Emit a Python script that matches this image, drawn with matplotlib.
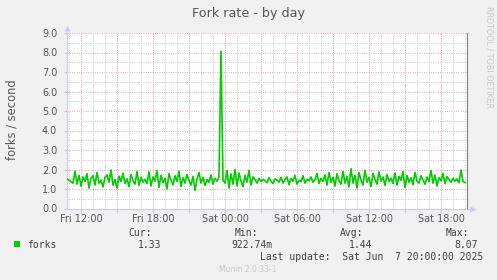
import numpy as np
import matplotlib
matplotlib.use("Agg")
import matplotlib.pyplot as plt

# forks per second, one sample every 10 minutes, Fri 10:50 -> Sat 20:00
forks = [
    1.52, 1.45, 1.38, 1.30, 1.92, 1.25, 1.70, 1.15, 1.62, 1.40, 1.78, 1.05, 1.55, 1.68, 1.20, 1.85, 1.30, 1.45, 1.10, 1.60,
    1.72, 1.35, 1.98, 1.20, 1.48, 1.05, 1.66, 1.38, 1.82, 1.28, 1.52, 1.12, 1.75, 1.42, 1.25, 1.90, 1.18, 1.60, 1.35, 1.50,
    1.28, 1.88, 1.15, 1.62, 1.40, 1.95, 1.08, 1.70, 1.32, 1.55, 1.00, 1.80, 1.45, 1.22, 1.68, 1.38, 1.92, 1.12, 1.58, 1.30,
    1.75, 1.42, 1.20, 1.65, 0.92, 1.50, 1.85, 1.30, 1.60, 1.18, 1.48, 1.35, 1.72, 1.25, 1.55, 1.40, 1.60, 8.07, 1.45, 1.30,
    1.95, 1.05, 1.78, 1.25, 2.00, 1.15, 1.82, 1.40, 1.12, 1.70, 1.35, 1.95, 1.20, 1.62, 1.48, 1.30, 1.55, 1.38, 1.50, 1.42,
    1.32, 1.58, 1.40, 1.28, 1.52, 1.45, 1.35, 1.60, 1.30, 1.48, 1.62, 1.22, 1.55, 1.40, 1.70, 1.25, 1.45, 1.38, 1.68, 1.30,
    1.50, 1.42, 1.62, 1.35, 1.48, 1.80, 1.28, 1.55, 1.40, 1.72, 1.20, 1.85, 1.35, 1.60, 1.15, 1.78, 1.42, 1.25, 1.90, 1.30,
    1.65, 1.10, 2.05, 1.30, 1.70, 1.05, 1.85, 1.45, 1.20, 1.95, 1.35, 1.60, 1.12, 1.80, 1.50, 1.25, 1.88, 1.40, 1.62, 1.18,
    1.75, 1.38, 1.55, 1.28, 1.82, 1.20, 1.65, 1.45, 1.90, 1.08, 1.70, 1.35, 1.58, 1.22, 1.85, 1.40, 1.30, 1.68, 1.45, 1.25,
    1.62, 1.38, 1.95, 1.30, 1.72, 1.15, 1.58, 1.42, 1.80, 1.28, 1.65, 1.48, 1.35, 1.55, 1.40, 1.52, 1.32, 1.98, 1.38, 1.33,
]
start_hour = 10 + 50 / 60  # hours since Fri 00:00
step_hour = 10 / 60

tick_hours = [12, 18, 24, 30, 36, 42]
tick_labels = ["Fri 12:00", "Fri 18:00", "Sat 00:00", "Sat 06:00", "Sat 12:00", "Sat 18:00"]
y_ticks = [0, 1, 2, 3, 4, 5, 6, 7, 8, 9]

legend_name = "forks"
stat_heads = ["Cur:", "Min:", "Avg:", "Max:"]
stat_values = ["1.33", "922.74m", "1.44", "8.07"]
last_update = "Last update:  Sat Jun  7 20:00:00 2025"

W, H = 497, 280
BG = "#f0f0f0"
TXT = "#555555"
AXC = "#c8c8f0"
MINOR = "#cccccc"
MAJOR = "#ecb0b0"

hours = start_hour + step_hour * np.arange(len(forks))

fig = plt.figure(figsize=(W / 100, H / 100), dpi=100, facecolor=BG)
ax = fig.add_axes([67 / W, 1 - 208.5 / H, 400 / W, 175.5 / H])
ax.set_facecolor("white")

ax.set_xlim(10 + 50 / 60, 10 + 50 / 60 + 400 / 12)
ax.set_ylim(0, 9)

# grid: minor gray (1h / 0.5), major red (3h / 1.0)
dots = (0, (1, 1.3))
for h in np.arange(11, 45, 1):
    ax.axvline(h, color=MINOR, lw=0.72, ls=dots, zorder=1)
for v in np.arange(0.5, 9, 1.0):
    ax.axhline(v, color=MINOR, lw=0.72, ls=dots, zorder=1)
for h in np.arange(12, 45, 3):
    ax.axvline(h, color=MAJOR, lw=0.72, ls=dots, zorder=2)
for v in y_ticks[1:]:
    ax.axhline(v, color=MAJOR, lw=0.72, ls=dots, zorder=2)

ax.plot(hours, forks, color="#00cc00", lw=1.2, zorder=3)

ax.spines["top"].set_visible(False)
ax.spines["left"].set_color(AXC)
ax.spines["bottom"].set_color(AXC)
ax.spines["right"].set_color("#808080")
for s in ax.spines.values():
    s.set_linewidth(0.8)

ax.set_xticks(tick_hours)
ax.set_xticklabels(tick_labels)
ax.set_xticks(np.arange(12, 45, 3), minor=True)
ax.set_yticks(y_ticks)
ax.set_yticklabels([f"{v:.1f}" for v in y_ticks])
ax.tick_params(axis="x", which="both", length=3, color=MAJOR, width=0.6,
               labelsize=7, labelcolor=TXT, pad=1)
ax.tick_params(axis="y", length=2, color=MAJOR, width=0.6,
               labelsize=7, labelcolor=TXT, pad=5)

# axis arrows
ax.plot([0, 0], [1.0, 1.03], color=AXC, lw=0.8, transform=ax.transAxes, clip_on=False)
ax.plot([0], [1.03], marker="^", ms=4.5, color=AXC, mec="none",
        transform=ax.transAxes, clip_on=False)
ax.plot([1.0, 1.012], [0, 0], color=AXC, lw=0.8, transform=ax.transAxes, clip_on=False)
ax.plot([1.014], [0], marker=">", ms=4.5, color=AXC, mec="none",
        transform=ax.transAxes, clip_on=False)

def px(x, y):
    return x / W, 1 - y / H

fig.text(*px(248, 13), "Fork rate - by day", ha="center", va="center",
         fontsize=9.2, color=TXT)
fig.text(*px(12, 120), "forks / second", ha="center", va="center",
         rotation=90, fontsize=8.3, color=TXT)
fig.text(*px(489, 57), "RRDTOOL / TOBI OETIKER", ha="center", va="center",
         rotation=270, fontsize=5.8, color="#c8c8c8")

mono = dict(family="DejaVu Sans Mono", fontsize=7.0, color="#404040")
fig.patches.append(plt.Rectangle(px(14, 247), 6 / W, 6 / H, transform=fig.transFigure,
                                 facecolor="#00cc00", edgecolor="none"))
fig.text(*px(27, 245), legend_name, ha="left", va="center", **mono)
head_right = [152, 258, 363, 469]
val_right = [161, 273, 372, 478]
for hd, vl, hx, vx in zip(stat_heads, stat_values, head_right, val_right):
    fig.text(*px(hx, 233), hd, ha="right", va="center", **mono)
    fig.text(*px(vx, 245), vl, ha="right", va="center", **mono)
fig.text(*px(483, 257), last_update, ha="right", va="center", **mono)
fig.text(*px(248, 270), "Munin 2.0.33-1", ha="center", va="center",
         fontsize=5.5, color="#c8c8c8")

fig.savefig("out.png", dpi=100, facecolor=BG)
